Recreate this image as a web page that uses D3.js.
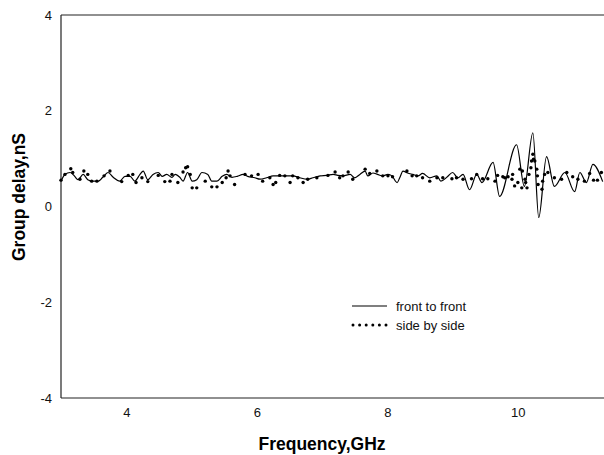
<!DOCTYPE html>
<html>
<head>
<meta charset="utf-8">
<script src="https://cdn.jsdelivr.net/npm/d3@7"></script>
<style>
  body { margin: 0; background: #fff; }
  svg { display: block; font-family: "Liberation Sans", Arial, sans-serif; }
</style>
</head>
<body>
<svg id="chart" width="604" height="455"></svg>
<script>
// front to front (solid line)
const solidFreq = [3.00, 3.06, 3.14, 3.21, 3.26, 3.34, 3.41, 3.49, 3.57, 3.64, 3.72, 3.80, 3.90, 3.98,
  4.06, 4.13, 4.21, 4.26, 4.33, 4.41, 4.49, 4.55, 4.62, 4.70, 4.75, 4.82, 4.87, 4.94,
  5.01, 5.08, 5.16, 5.25, 5.31, 5.39, 5.47, 5.54, 5.62, 5.70, 5.79, 5.86, 5.97,
  6.05, 6.15, 6.25, 6.35, 6.46, 6.55, 6.66, 6.77, 6.86, 6.97,
  7.07, 7.17, 7.24, 7.32, 7.43, 7.50, 7.58, 7.66, 7.70, 7.78, 7.85, 7.93,
  8.01, 8.07, 8.15, 8.19, 8.24, 8.31, 8.39, 8.47, 8.54, 8.65, 8.76, 8.82, 8.92,
  9.00, 9.08, 9.16, 9.26, 9.37, 9.45, 9.62, 9.72, 9.98,
  10.10, 10.23, 10.32, 10.44, 10.56, 10.72, 10.87, 10.95, 11.05, 11.15, 11.30];
const solidDelay = [0.53, 0.67, 0.71, 0.63, 0.56, 0.67, 0.56, 0.53, 0.53, 0.61, 0.71, 0.61, 0.53, 0.63,
  0.63, 0.53, 0.67, 0.74, 0.56, 0.67, 0.71, 0.63, 0.67, 0.61, 0.67, 0.61, 0.53, 0.71,
  0.53, 0.56, 0.71, 0.67, 0.53, 0.53, 0.63, 0.67, 0.61, 0.63, 0.67, 0.63, 0.60,
  0.57, 0.60, 0.64, 0.64, 0.64, 0.64, 0.60, 0.57, 0.60, 0.64,
  0.65, 0.67, 0.65, 0.64, 0.67, 0.60, 0.67, 0.74, 0.64, 0.70, 0.67, 0.64,
  0.67, 0.64, 0.50, 0.60, 0.74, 0.70, 0.67, 0.64, 0.69, 0.60, 0.64, 0.53, 0.62,
  0.71, 0.60, 0.67, 0.35, 0.67, 0.50, 0.92, 0.21, 1.29,
  0.42, 1.54, -0.23, 1.04, 0.42, 0.71, 0.31, 0.71, 0.50, 0.88, 0.52];

// side by side (dots)
const dotFreq = [3.00, 3.06, 3.15, 3.18, 3.29, 3.35, 3.41, 3.47, 3.55, 3.66, 3.75, 3.93,
  4.03, 4.10, 4.15, 4.24, 4.33, 4.49, 4.59, 4.67, 4.70, 4.79, 4.87, 4.91, 4.94, 4.98,
  5.01, 5.08, 5.21, 5.31, 5.39, 5.47, 5.53, 5.56, 5.59, 5.66, 5.82, 5.92,
  6.02, 6.09, 6.20, 6.25, 6.29, 6.35, 6.43, 6.51, 6.55, 6.63, 6.71, 6.78, 6.92,
  7.09, 7.20, 7.27, 7.32, 7.40, 7.47, 7.66, 7.73, 7.84, 7.93,
  8.01, 8.08, 8.30, 8.38, 8.45, 8.54, 8.65, 8.76, 8.85, 8.99,
  9.06, 9.16, 9.29, 9.37, 9.46, 9.54, 9.65, 9.69, 9.77, 9.80, 9.85, 9.91, 9.92, 9.95,
  10.00, 10.03, 10.06, 10.07, 10.11, 10.12, 10.14, 10.17, 10.20, 10.21, 10.23, 10.24, 10.26,
  10.29, 10.30, 10.31, 10.37, 10.38, 10.41, 10.46, 10.56, 10.67, 10.75, 10.84, 10.92,
  11.02, 11.10, 11.16, 11.22, 11.28];
const dotDelay = [0.55, 0.67, 0.79, 0.71, 0.57, 0.74, 0.67, 0.53, 0.53, 0.64, 0.74, 0.52,
  0.65, 0.67, 0.50, 0.60, 0.52, 0.65, 0.52, 0.53, 0.67, 0.50, 0.72, 0.81, 0.83, 0.67,
  0.39, 0.39, 0.53, 0.41, 0.41, 0.50, 0.60, 0.74, 0.64, 0.46, 0.67, 0.64,
  0.67, 0.53, 0.60, 0.46, 0.50, 0.65, 0.64, 0.50, 0.64, 0.60, 0.50, 0.57, 0.60,
  0.65, 0.72, 0.60, 0.64, 0.72, 0.57, 0.78, 0.69, 0.74, 0.64,
  0.64, 0.62, 0.74, 0.64, 0.64, 0.60, 0.53, 0.60, 0.60, 0.58,
  0.60, 0.57, 0.58, 0.67, 0.58, 0.58, 0.53, 0.65, 0.62, 0.60, 0.62, 0.57, 0.67, 0.43,
  0.50, 0.78, 0.39, 0.74, 0.57, 0.50, 0.39, 0.67, 0.81, 0.95, 1.09, 0.99, 0.95,
  0.78, 0.64, 0.46, 0.36, 0.53, 0.67, 0.71, 0.60, 0.57, 0.71, 0.62, 0.57,
  0.53, 0.69, 0.55, 0.55, 0.71];

const xTicks = [4, 6, 8, 10];
const yTicks = [-4, -2, 0, 2, 4];
const seriesNames = ["front to front", "side by side"];

const svg = d3.select("#chart");
const margin = { top: 15, right: 0, bottom: 57, left: 61 };
const W = 604, H = 455;

const x = d3.scaleLinear().domain([3, 11.32]).range([margin.left, W - margin.right]);
const y = d3.scaleLinear().domain([-4, 4]).range([H - margin.bottom, margin.top]);

// frame: left, top, bottom (no right side)
const frame = svg.append("g").attr("stroke", "#222").attr("stroke-width", 1.2);
frame.append("line").attr("x1", x(3)).attr("x2", x(3)).attr("y1", y(4)).attr("y2", y(-4));
frame.append("line").attr("x1", x(3)).attr("x2", W).attr("y1", y(4)).attr("y2", y(4));
frame.append("line").attr("x1", x(3)).attr("x2", W).attr("y1", y(-4)).attr("y2", y(-4));

const xAxis = svg.append("g")
  .attr("transform", `translate(0,${y(-4)})`)
  .call(d3.axisBottom(x).tickValues(xTicks).tickSize(0).tickPadding(10).tickFormat(d => String(d)));
const yAxis = svg.append("g")
  .attr("transform", `translate(${x(3)},0)`)
  .call(d3.axisLeft(y).tickValues(yTicks).tickSize(0).tickPadding(9).tickFormat(d => String(d)));
[xAxis, yAxis].forEach(a => {
  a.select(".domain").remove();
  a.selectAll("text").attr("font-size", 13).attr("fill", "#111")
    .attr("font-family", "'Liberation Sans', Arial, sans-serif");
});

svg.append("text")
  .attr("x", 322).attr("y", 450)
  .attr("text-anchor", "middle")
  .attr("font-size", 17.5).attr("font-weight", "bold")
  .text("Frequency,GHz");

svg.append("text")
  .attr("transform", "translate(25,197) rotate(-90)")
  .attr("text-anchor", "middle")
  .attr("font-size", 17.5).attr("font-weight", "bold")
  .text("Group delay,nS");

const solid = solidFreq.map((f, i) => [f, solidDelay[i]]);
const dots = dotFreq.map((f, i) => [f, dotDelay[i]]);

svg.append("path")
  .datum(solid)
  .attr("fill", "none")
  .attr("stroke", "#000")
  .attr("stroke-width", 1.2)
  .attr("d", d3.line().x(d => x(d[0])).y(d => y(d[1])).curve(d3.curveMonotoneX));

svg.append("g").selectAll("circle")
  .data(dots)
  .join("circle")
  .attr("cx", d => x(d[0]))
  .attr("cy", d => y(d[1]))
  .attr("r", 1.7)
  .attr("fill", "#000");

// legend
const leg = svg.append("g");
leg.append("line")
  .attr("x1", 352).attr("x2", 387).attr("y1", 306).attr("y2", 306)
  .attr("stroke", "#000").attr("stroke-width", 1.2);
leg.selectAll("circle")
  .data([0, 1, 2, 3, 4, 5])
  .join("circle")
  .attr("cx", i => 353 + i * 6.6)
  .attr("cy", 325)
  .attr("r", 1.5)
  .attr("fill", "#000");
leg.selectAll("text")
  .data(seriesNames)
  .join("text")
  .attr("x", 396)
  .attr("y", (d, i) => 311 + i * 19)
  .attr("font-size", 13)
  .attr("fill", "#111")
  .text(d => d);
</script>
</body>
</html>
